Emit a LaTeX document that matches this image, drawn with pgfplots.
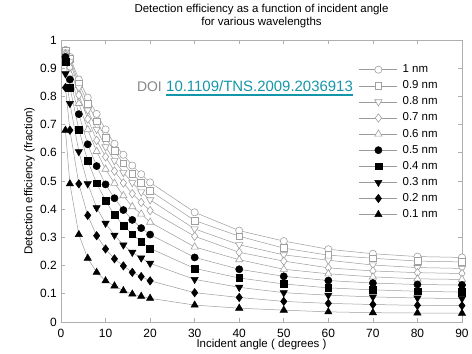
\documentclass[border=0pt]{standalone}
\usepackage{fontspec}
\setmainfont{Liberation Sans}
\usepackage{pgfplots}
\pgfplotsset{compat=1.18}
\definecolor{linegray}{RGB}{155,155,155}
\definecolor{opengray}{RGB}{160,160,160}
\definecolor{axisgray}{RGB}{175,175,175}
\definecolor{doiteal}{RGB}{20,150,170}
\definecolor{doigray}{RGB}{135,135,135}
\pgfplotsset{
  openmark/.style={color=linegray, line width=0.5bp, mark size=#1, mark options={draw=opengray, fill=white, line width=0.6bp, solid}},
  fullmark/.style={color=linegray, line width=0.5bp, mark size=#1, mark options={draw=black, fill=black, solid}},
  flipmark/.style={every mark/.append style={rotate=180}},
}
\begin{document}
\begin{tikzpicture}
\path[use as bounding box] (-61bp,-32bp) rectangle (411bp,322bp);
\begin{axis}[
  at={(0bp,0bp)}, anchor=south west,
  scale only axis, width=401bp, height=282bp,
  xmin=0, xmax=90, ymin=0, ymax=1,
  xtick={0,10,20,30,40,50,60,70,80,90},
  xticklabels={0,10,20,30,40,50,60,70,80,90},
  ytick={0,0.1,0.2,0.3,0.4,0.5,0.6,0.7,0.8,0.9,1},
  yticklabels={0,0.1,0.2,0.3,0.4,0.5,0.6,0.7,0.8,0.9,1},
  axis line style={axisgray, line width=0.6bp},
  tick style={axisgray, line width=0.6bp},
  major tick length=4bp,
  tick align=inside,
  ticklabel style={font=\fontsize{12}{12}\selectfont, text=black},
  xticklabel style={inner sep=0pt, anchor=north, yshift=-6.5bp},
  yticklabel style={inner sep=0pt, anchor=east, xshift=-4bp},
  xlabel={Incident angle ( degrees )},
  ylabel={Detection efficiency (fraction)},
  every axis x label/.style={at={(rel axis cs:0.5,0)}, anchor=base, yshift=-25.5bp, font=\fontsize{11.5}{12}\selectfont},
  every axis y label/.style={at={(rel axis cs:0,0.5)}, xshift=-28.5bp, rotate=90, anchor=base, font=\fontsize{11.5}{12}\selectfont},
  title={Detection efficiency as a function of incident angle\\for various wavelengths},
  title style={at={(rel axis cs:0.5,1)}, anchor=south, yshift=5.8bp, inner sep=0pt, align=center, font=\fontsize{11.5}{13.4}\selectfont},
  legend cell align=left,
  legend image code/.code={
    \draw[mark repeat=2,mark phase=2,#1] plot coordinates {(0bp,0bp) (19bp,0bp) (38bp,0bp)};
    \path (43bp,0bp);
  },
  legend style={at={(rel axis cs:0.743,0.915)}, anchor=north west, draw=none, fill=none, inner sep=0pt,
    font=\fontsize{11.5}{13}\selectfont, row sep=5.1bp,
    nodes={inner sep=0pt, text height=8.5bp, text depth=2.5bp}},
]
\addplot[openmark=3.6bp, mark=*] coordinates {(1,0.965)(2,0.94)(4,0.86)(6,0.796)(8,0.738)(10,0.683)(12,0.632)(14,0.593)(16,0.555)(18,0.524)(20,0.495)(30,0.389)(40,0.324)(50,0.287)(60,0.258)(70,0.242)(80,0.232)(90,0.229)};
\addlegendentry{1 nm}
\addplot[openmark=3.4bp, mark=square*] coordinates {(1,0.961)(2,0.932)(4,0.846)(6,0.775)(8,0.712)(10,0.653)(12,0.606)(14,0.563)(16,0.526)(18,0.495)(20,0.465)(30,0.36)(40,0.304)(50,0.262)(60,0.237)(70,0.226)(80,0.216)(90,0.213)};
\addlegendentry{0.9 nm}
\addplot[openmark=4.2bp, flipmark, mark=triangle*] coordinates {(1,0.957)(2,0.923)(4,0.831)(6,0.751)(8,0.683)(10,0.621)(12,0.572)(14,0.53)(16,0.494)(18,0.461)(20,0.433)(30,0.33)(40,0.274)(50,0.238)(60,0.219)(70,0.202)(80,0.193)(90,0.19)};
\addlegendentry{0.8 nm}
\addplot[openmark=4.2bp, mark=diamond*] coordinates {(1,0.952)(2,0.903)(4,0.805)(6,0.72)(8,0.644)(10,0.586)(12,0.535)(14,0.493)(16,0.455)(18,0.424)(20,0.395)(30,0.304)(40,0.247)(50,0.216)(60,0.192)(70,0.181)(80,0.175)(90,0.172)};
\addlegendentry{0.7 nm}
\addplot[openmark=4.2bp, mark=triangle*] coordinates {(1,0.947)(2,0.88)(4,0.775)(6,0.682)(8,0.605)(10,0.542)(12,0.492)(14,0.448)(16,0.409)(18,0.383)(20,0.354)(30,0.266)(40,0.221)(50,0.187)(60,0.171)(70,0.16)(80,0.153)(90,0.151)};
\addlegendentry{0.6 nm}
\addplot[fullmark=3.6bp, mark=*] coordinates {(1,0.94)(2,0.86)(4,0.737)(6,0.63)(8,0.553)(10,0.488)(12,0.439)(14,0.397)(16,0.362)(18,0.333)(20,0.31)(30,0.229)(40,0.187)(50,0.162)(60,0.147)(70,0.138)(80,0.133)(90,0.131)};
\addlegendentry{0.5 nm}
\addplot[fullmark=3.4bp, mark=square*] coordinates {(1,0.923)(2,0.832)(4,0.683)(6,0.571)(8,0.492)(10,0.43)(12,0.38)(14,0.342)(16,0.311)(18,0.285)(20,0.261)(30,0.19)(40,0.156)(50,0.135)(60,0.121)(70,0.114)(80,0.109)(90,0.106)};
\addlegendentry{0.4 nm}
\addplot[fullmark=4.2bp, flipmark, mark=triangle*] coordinates {(1,0.88)(2,0.775)(4,0.604)(6,0.49)(8,0.405)(10,0.35)(12,0.308)(14,0.273)(16,0.247)(18,0.227)(20,0.208)(30,0.151)(40,0.123)(50,0.104)(60,0.095)(70,0.089)(80,0.085)(90,0.083)};
\addlegendentry{0.3 nm}
\addplot[fullmark=4.2bp, mark=diamond*] coordinates {(1,0.831)(2,0.68)(4,0.49)(6,0.378)(8,0.306)(10,0.259)(12,0.224)(14,0.199)(16,0.176)(18,0.161)(20,0.146)(30,0.104)(40,0.087)(50,0.073)(60,0.066)(70,0.062)(80,0.059)(90,0.058)};
\addlegendentry{0.2 nm}
\addplot[fullmark=4.2bp, mark=triangle*] coordinates {(1,0.68)(2,0.49)(4,0.31)(6,0.226)(8,0.176)(10,0.146)(12,0.128)(14,0.111)(16,0.099)(18,0.091)(20,0.084)(30,0.06)(40,0.049)(50,0.042)(60,0.036)(70,0.033)(80,0.032)(90,0.031)};
\addlegendentry{0.1 nm}
\end{axis}
\node[anchor=base west, inner sep=0pt, text=doiteal, font=\fontsize{15}{15}\selectfont] (d2) at (105bp,230bp) {10.1109/TNS.2009.2036913};
\node[anchor=base east, inner sep=0pt, text=doigray, font=\fontsize{14}{14}\selectfont] (d1) at (101bp,230bp) {DOI};
\draw[doiteal, line width=1.3bp] ([yshift=-3bp]d2.base west) -- ([yshift=-3bp]d2.base east);
\end{tikzpicture}
\end{document}
